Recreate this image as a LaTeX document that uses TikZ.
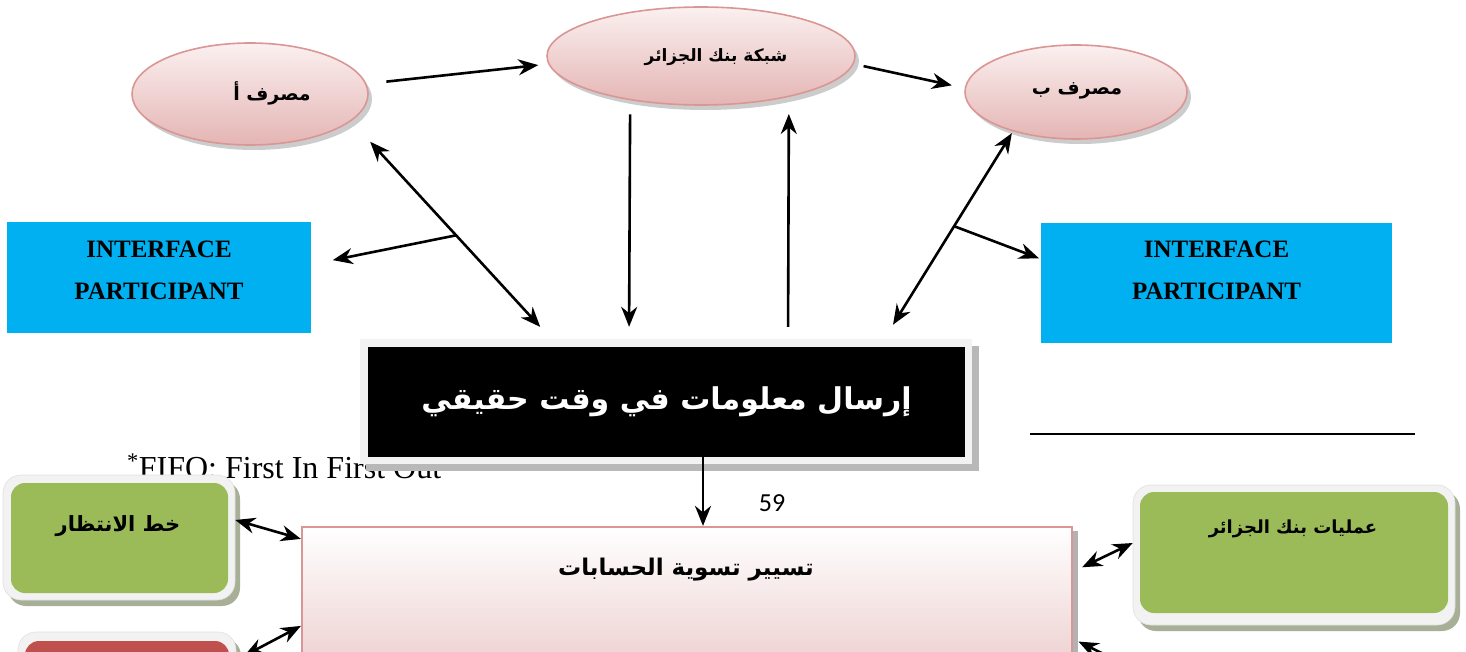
\documentclass[tikz,border=0pt]{standalone}
\usepackage{fontspec}
\setmainfont{Liberation Serif}
\newfontfamily\arabicfont[Script=Arabic]{DejaVu Sans}
\newfontfamily\calibrifont{Carlito}
\TeXXeTstate=1
\usetikzlibrary{shapes.geometric,arrows.meta,shadows,calc}
\newcommand{\artext}[1]{{\arabicfont\bfseries\beginR #1\endR}}
\definecolor{pinkB}{HTML}{D99694}
\definecolor{ellTop}{HTML}{FBF0F0}
\definecolor{ellBot}{HTML}{E4B5B4}
\definecolor{boxBot}{HTML}{E9C3C3}
\definecolor{blueB}{HTML}{00B0F0}
\definecolor{greenB}{HTML}{9BBB59}
\definecolor{greenSh}{HTML}{A7B097}
\definecolor{frameG}{HTML}{F2F2F2}
\definecolor{redB}{HTML}{C0504D}
\tikzset{
  arr/.style={line width=2.6pt,-{Stealth[length=20pt,width=16pt]}},
  darr/.style={line width=2.6pt,{Stealth[length=20pt,width=16pt]}-{Stealth[length=20pt,width=16pt]}},
  ell/.style={ellipse,draw=pinkB,line width=1.6pt,top color=ellTop,bottom color=ellBot,inner sep=0pt,
    drop shadow={shadow xshift=4pt,shadow yshift=-5pt,fill=black!40,opacity=0.5}},
  bluebox/.style={rectangle,fill=blueB,inner sep=0pt},
  bluetext/.style={font=\bfseries\fontsize{25}{42}\selectfont,align=center},
  framebox/.style={rectangle,rounded corners=18pt,fill=frameG,draw=black!12,line width=0.6pt,inner sep=0pt,
    drop shadow={shadow xshift=5pt,shadow yshift=-6pt,fill=greenSh,opacity=1}},
  greenbox/.style={rectangle,rounded corners=14pt,fill=greenB,inner sep=0pt},
  redbox/.style={rectangle,rounded corners=14pt,fill=redB,inner sep=0pt},
  lbl/.style={inner sep=0pt},
}
\begin{document}
\begin{tikzpicture}[x=1pt,y=-1pt]
\useasboundingbox (0,0) rectangle (1466,652);
\clip (0,0) rectangle (1466,652);
% ellipses
\node[ell,minimum width=236pt,minimum height=102pt] (A) at (250,94) {};
\node[lbl] (At) at (272,93) {\artext{\fontsize{19}{22}\selectfont مصرف أ}};
\node[ell,minimum width=308pt,minimum height=98pt] (N) at (701,56) {};
\node[lbl] (Nt) at (716,57) {\artext{\fontsize{17}{20}\selectfont شبكة بنك الجزائر}};
\node[ell,minimum width=222pt,minimum height=94pt] (B) at (1076,92) {};
\node[lbl] (Bt) at (1077,91) {\artext{\fontsize{19}{22}\selectfont مصرف ب}};
% interface boxes
\node[bluebox,minimum width=304pt,minimum height=111pt] (IL) at (159,277.5) {};
\node[bluetext] (ILt) at (159,270) {INTERFACE\\PARTICIPANT};
\node[bluebox,minimum width=351pt,minimum height=120pt] (IR) at (1216.5,283) {};
\node[bluetext] (IRt) at (1216.5,270) {INTERFACE\\PARTICIPANT};
% footnote text (under the black box frame)
\node[anchor=base west,lbl,font=\fontsize{32}{34}\selectfont] (fifo) at (127,478) {\textsuperscript{*}FIFO: First In First Out};
\draw[line width=1.2pt] (1030,434) -- (1415,434);
% black box with frame and shadow
\fill[black!28] (366,346) rectangle (979,471);
\fill[frameG] (360,339) rectangle (972,464);
\node[rectangle,fill=black,minimum width=597pt,minimum height=110pt,inner sep=0pt,text=white] (R) at (666.5,402)
  {\artext{\fontsize{30}{34}\selectfont إرسال معلومات في وقت حقيقي}};
\node[lbl,font=\calibrifont\fontsize{26}{28}\selectfont] (pg) at (772,503) {59};
% main box
\fill[black!30] (1072,531) rectangle (1078,720);
\node[rectangle,draw=pinkB,line width=2.2pt,top color=white,bottom color=boxBot,minimum width=770pt,minimum height=180pt,inner sep=0pt] (M) at (687,617) {};
\node[lbl] (Mt) at (686,570) {\artext{\fontsize{23}{26}\selectfont تسيير تسوية الحسابات}};
% green / red boxes
\node[framebox,minimum width=232pt,minimum height=125pt] (GL) at (119,537.5) {};
\node[greenbox,minimum width=217pt,minimum height=110pt] (GLi) at (119.5,538) {};
\node[lbl] (GLt) at (118,526) {\artext{\fontsize{21}{24}\selectfont خط الانتظار}};
\node[framebox,minimum width=322pt,minimum height=140pt] (GR) at (1294,555) {};
\node[greenbox,minimum width=308pt,minimum height=121pt] (GRi) at (1294,552.5) {};
\node[lbl] (GRt) at (1293,529) {\artext{\fontsize{18}{22}\selectfont عمليات بنك الجزائر}};
\node[framebox,minimum width=218pt,minimum height=100pt] (RL) at (127,682) {};
\node[redbox,minimum width=204pt,minimum height=90pt] (RLi) at (127,686) {};
% connectors
\draw[arr,shorten <=20pt,shorten >=10pt] (A.5.3) -- (N.183.4);
\draw[arr,shorten <=10pt,shorten >=13pt] (N.-3.8) -- (B.178.5);
\draw[darr,shorten <=28pt,shorten >=27pt] (A.-15.8) -- ([xshift=-108pt]R.north);
\coordinate (j1) at ($(A.-15.8)!0.506!([xshift=-108pt]R.north)$);
\draw[arr,shorten >=22pt] (j1) -- ([yshift=13pt]IL.east);
\draw[arr,shorten <=14pt,shorten >=20pt] (N.212.2) -- ([xshift=-37.5pt]R.north);
\draw[arr,shorten <=20pt,shorten >=17pt] ([xshift=121.5pt]R.north) -- (N.-25.3);
\draw[darr,shorten <=2pt,shorten >=26pt] (B.212.3) -- ([xshift=212.8pt]R.north);
\coordinate (j2) at ($(B.212.3)!0.44!([xshift=212.8pt]R.north)$);
\draw[arr,shorten >=2pt] (j2) -- ([yshift=24pt]IR.west);
\draw[arr] ([xshift=36.5pt]R.south) -- ([xshift=16pt]M.north);
\draw[darr] ([yshift=17.5pt]GL.east) -- ([yshift=-13pt]M.north west);
\draw[darr,shorten <=9pt] ([yshift=22pt]RL.east) -- ([yshift=-100pt]M.north west);
\draw[darr,shorten <=10pt] ([yshift=-45.7pt]M.north east) -- ([yshift=12pt]GR.west);
\coordinate (off1) at (1140,672);
\draw[arr,shorten >=6pt] (off1) -- ([yshift=-113pt]M.north east);
\end{tikzpicture}
\end{document}
